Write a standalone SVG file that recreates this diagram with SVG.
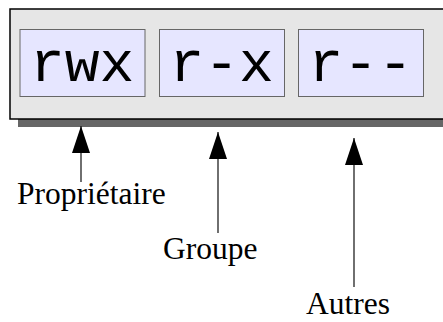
<svg xmlns="http://www.w3.org/2000/svg" width="443" height="322" viewBox="0 0 443 322">
<style>
.perm{fill:#e6e6ff;stroke:#666;stroke-width:1}
.mono{font-family:"Liberation Mono","Courier New",monospace;font-size:58px;fill:#000}
.lbl{font-family:"Liberation Serif","Times New Roman",serif;font-size:31.5px;fill:#000}
.conn{stroke:#222;stroke-width:1.3;fill:none;marker-end:url(#ah)}
</style>
<defs>
<marker id="ah" markerUnits="userSpaceOnUse" markerWidth="27" markerHeight="18" viewBox="0 0 27 18" refX="27" refY="9" orient="auto">
<path d="M0,0 L27,9 L0,18 Z" fill="#000"/>
</marker>
</defs>
<g id="frame">
<rect x="18" y="17" width="500" height="110" fill="#666"/>
<rect x="10" y="9" width="500" height="110" fill="#e6e6e6" stroke="#000" stroke-width="1.5"/>
</g>
<g id="owner-perm">
<rect class="perm" x="20" y="29.5" width="125" height="67"/>
<text class="mono" x="30" y="81">rwx</text>
</g>
<g id="group-perm">
<rect class="perm" x="159.5" y="29.5" width="125" height="67"/>
<text class="mono" x="169.5" y="81">r-x</text>
</g>
<g id="other-perm">
<rect class="perm" x="298.5" y="29.5" width="125" height="67"/>
<text class="mono" x="308.5" y="81">r--</text>
</g>
<g id="connectors">
<line class="conn" x1="81" y1="182" x2="81" y2="126"/>
<line class="conn" x1="218" y1="233" x2="218" y2="132"/>
<line class="conn" x1="354" y1="287" x2="354" y2="138"/>
</g>
<g id="owner-label"><text class="lbl" x="17" y="204">Propriétaire</text></g>
<g id="group-label"><text class="lbl" x="163" y="259">Groupe</text></g>
<g id="other-label"><text class="lbl" x="306" y="314">Autres</text></g>
</svg>
